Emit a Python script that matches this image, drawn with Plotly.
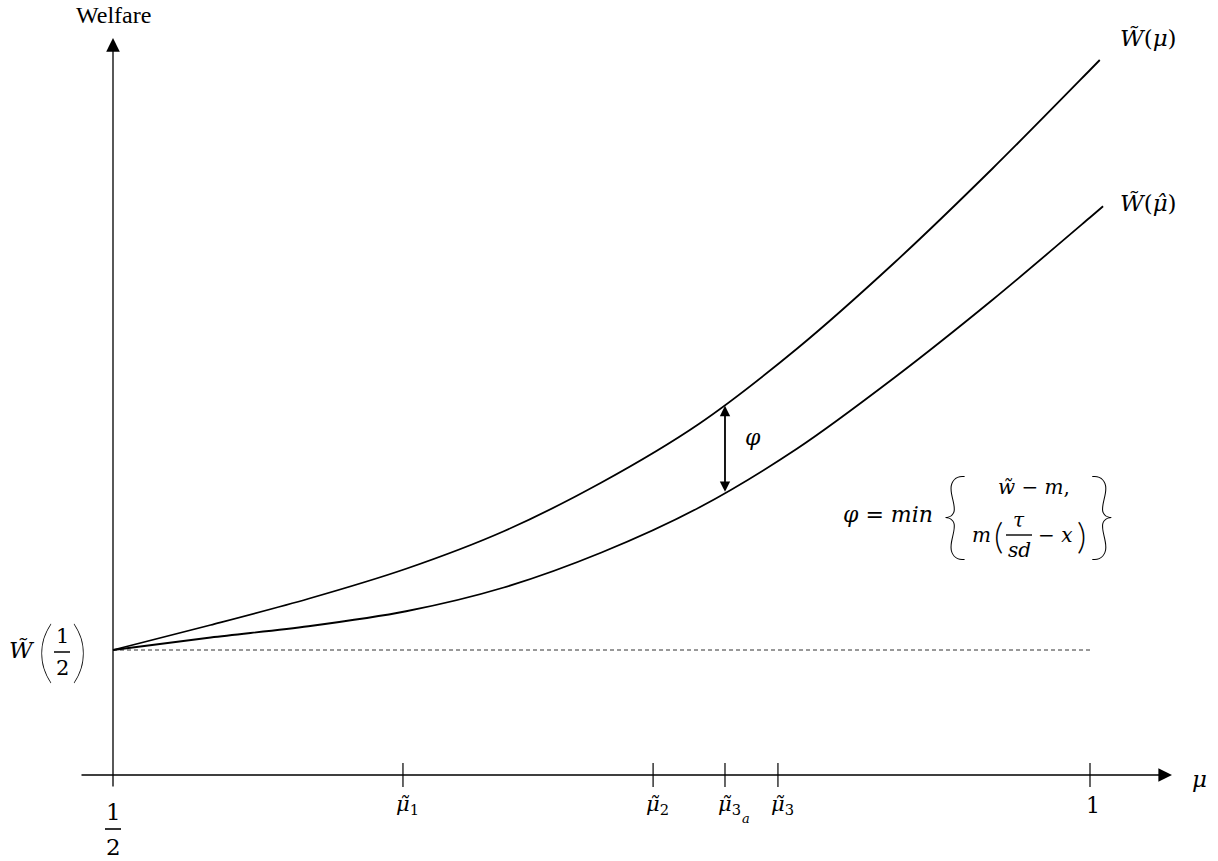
import plotly.graph_objects as go
import numpy as np

# ---- data ----
mu_true = [0.50, 0.55, 0.60, 0.65, 0.70, 0.75, 0.80, 0.85, 0.90, 0.95, 1.00, 1.005]
welfare_true = [1.0, 1.20, 1.41, 1.65, 1.95, 2.34, 2.81, 3.41, 4.10, 4.85, 5.64, 5.72]
mu_hat = [0.50, 0.55, 0.60, 0.65, 0.70, 0.75, 0.80, 0.85, 0.90, 0.95, 1.00, 1.0067]
welfare_hat = [1.0, 1.10, 1.19, 1.31, 1.50, 1.78, 2.14, 2.61, 3.18, 3.80, 4.46, 4.55]
w_half = 1.0
mu_start = 0.5
mu_end = 1.0
tick_mu = [0.6484, 0.7764, 0.8132, 0.8403, 1.0]
tick_text = ["<i>μ̃</i><sub>1</sub>", "<i>μ̃</i><sub>2</sub>", "<i>μ̃</i><sub>3</sub>",
             "<i>μ̃</i><sub>3</sub>", "1"]
mu_3a = 0.8132

W, H = 1218, 861
MATH = "DejaVu Serif"
THIN = "Lato"


def px2mu(px):
    return 0.5 + (px - 113) / 1954.0


def py2w(py):
    return (775 - py) / 125.0


fig = go.Figure()

# dashed W(1/2) level
fig.add_trace(go.Scatter(x=[mu_start, mu_end], y=[w_half, w_half], mode="lines",
                         line=dict(color="#333333", width=1, dash="4px,3px"),
                         hoverinfo="skip"))
# curves
for xs, ys in ((mu_true, welfare_true), (mu_hat, welfare_hat)):
    fig.add_trace(go.Scatter(x=xs, y=ys, mode="lines",
                             line=dict(color="black", width=1.8, shape="spline", smoothing=0.9),
                             hoverinfo="skip"))

annotations = []
shapes = []

# axes with arrow heads
annotations.append(dict(x=px2mu(1172), y=0, ax=px2mu(80), ay=0, xref="x", yref="y",
                        axref="x", ayref="y", text="", showarrow=True, arrowhead=2,
                        arrowsize=2.1, arrowwidth=1.3, arrowcolor="black"))
annotations.append(dict(x=mu_start, y=py2w(38), ax=mu_start, ay=py2w(788), xref="x", yref="y",
                        axref="x", ayref="y", text="", showarrow=True, arrowhead=2,
                        arrowsize=2.1, arrowwidth=1.3, arrowcolor="black"))

# ticks
for m in tick_mu:
    shapes.append(dict(type="line", xref="x", yref="y", x0=m, x1=m, y0=-0.096, y1=0.096,
                       line=dict(color="black", width=1.2)))

# phi double arrow
y_top = float(np.interp(mu_3a, mu_true, welfare_true)) - 0.015
y_bot = float(np.interp(mu_3a, mu_hat, welfare_hat)) - 0.01
annotations.append(dict(x=mu_3a, y=y_top, ax=mu_3a, ay=y_bot, xref="x", yref="y",
                        axref="x", ayref="y", text="", showarrow=True, arrowhead=2,
                        startarrowhead=2, arrowside="end+start", arrowsize=1.15,
                        startarrowsize=1.15, arrowwidth=1.8, arrowcolor="black"))


def label(text, px, py, size=20, font=MATH, weight=None, xanchor="center"):
    f = dict(family=font, size=size, color="black")
    if weight is not None:
        f["weight"] = weight
    annotations.append(dict(text=text, x=px / W, y=1 - py / H, xref="paper", yref="paper",
                            showarrow=False, xanchor=xanchor, yanchor="middle", font=f))


# tick labels
for m, t in zip(tick_mu, tick_text):
    annotations.append(dict(text=t, x=m + (0.0025 if t != "1" else 0.0015), y=1 - 805 / H,
                            xref="x", yref="paper", showarrow=False,
                            xanchor="center", yanchor="middle",
                            font=dict(family=MATH, size=21 if t != "1" else 22, color="black")))
# subscript a of mu_3a
annotations.append(dict(text="<i>a</i>", x=mu_3a + 0.0108, y=1 - 818 / H, xref="x", yref="paper",
                        showarrow=False, xanchor="center", yanchor="middle",
                        font=dict(family=MATH, size=13, color="black")))

# 1/2 under axis
label("1", 113, 812, 23)
label("2", 113, 847, 23)
shapes.append(dict(type="line", xref="paper", yref="paper", x0=105 / W, x1=121 / W,
                   y0=1 - 829 / H, y1=1 - 829 / H, line=dict(color="black", width=1.6)))

# W(1/2) on the left
label("<i>W̃</i>", 22, 650, 23)
label("(", 45, 648, 68, font=THIN, weight=200)
label(")", 79, 648, 68, font=THIN, weight=200)
label("1", 62, 636, 21)
label("2", 62, 668, 21)
shapes.append(dict(type="line", xref="paper", yref="paper", x0=54 / W, x1=70 / W,
                   y0=1 - 652 / H, y1=1 - 652 / H, line=dict(color="black", width=1.5)))

# axis titles
label("Welfare", 113, 15, 24, font="Liberation Serif")
label("<i>μ</i>", 1199, 779, 23)

# curve labels
label("<i>W̃</i>(<i>μ</i>)", 1148, 38, 23)
label("<i>W̃</i>(<i>μ̂</i>)", 1148, 203, 23)

# phi label
label("<i>φ</i>", 753, 437, 22)

# formula
label("<i>φ</i> = <i>min</i>", 888, 514, 22)
label("{", 955, 510, 96, font=THIN, weight=200)
label("}", 1102, 510, 96, font=THIN, weight=200)
label("<i>w̃</i> − <i>m</i>,", 1034, 487, 20)
label("<i>m</i>", 981, 535, 20)
label("(", 998, 535, 36, font=THIN, weight=300)
label("<i>τ</i>", 1019, 520, 20)
shapes.append(dict(type="line", xref="paper", yref="paper", x0=1006 / W, x1=1032 / W,
                   y0=1 - 535 / H, y1=1 - 535 / H, line=dict(color="black", width=1.4)))
label("<i>sd</i>", 1019, 550, 20)
label("− <i>x</i>", 1055, 535, 20)
label(")", 1081, 535, 36, font=THIN, weight=300)

fig.update_layout(
    width=W, height=H,
    margin=dict(l=0, r=0, t=0, b=0),
    paper_bgcolor="white", plot_bgcolor="white",
    showlegend=False,
    xaxis=dict(visible=False, range=[px2mu(0), px2mu(W)], fixedrange=True),
    yaxis=dict(visible=False, range=[py2w(H), py2w(0)], fixedrange=True),
    annotations=annotations,
    shapes=shapes,
)

fig.write_html("out.html", config={"displayModeBar": False},
               post_script="document.body.style.margin='0px';document.body.style.overflow='hidden';")
